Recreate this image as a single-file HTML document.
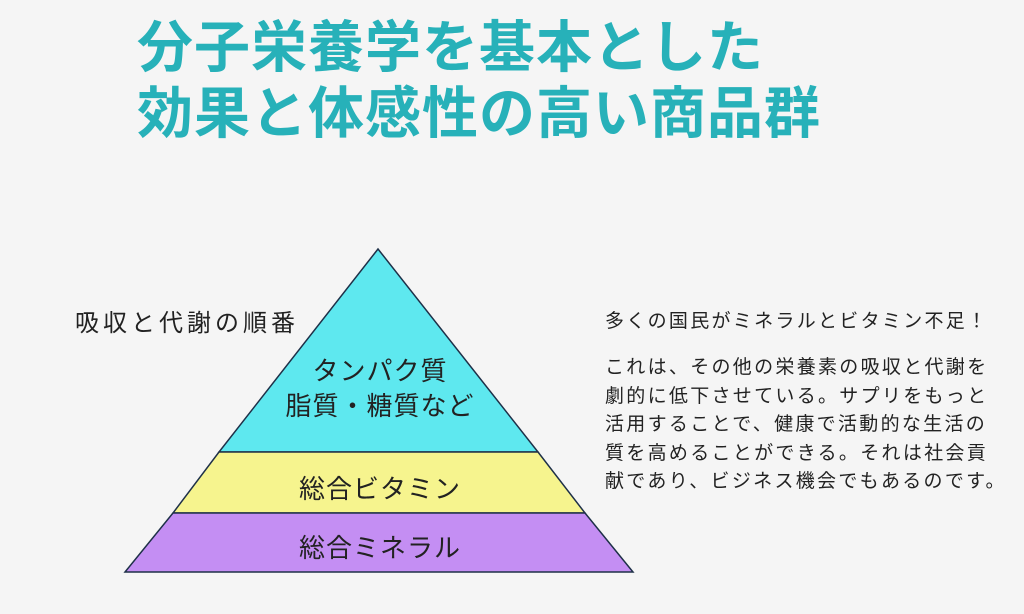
<!DOCTYPE html>
<html><head><meta charset="utf-8"><style>
html,body{margin:0;padding:0;width:1024px;height:614px;background:#f5f5f5;overflow:hidden;font-family:"Liberation Sans","Noto Sans CJK JP",sans-serif;}
.t{position:absolute;left:137px;font-size:56px;font-weight:bold;color:#27b1b9;line-height:1;white-space:nowrap;letter-spacing:1px;}
.r{position:absolute;left:605px;font-size:19px;color:#222;line-height:28.5px;white-space:nowrap;letter-spacing:2.3px;}
</style></head><body>
<div class="t" style="top:20px">分子栄養学を基本とした</div>
<div class="t" style="top:86px">効果と体感性の高い商品群</div>
<svg style="position:absolute;left:0;top:0" width="1024" height="614">
<polygon points="378,249 219,452 538,452" fill="#5ee8ef" stroke="#1e3048" stroke-width="1.5"/>
<polygon points="219,452 538,452 585,513 173,513" fill="#f6f48e" stroke="#1e3048" stroke-width="1.5"/>
<polygon points="173,513 585,513 633,572 125,572" fill="#c48ef3" stroke="#1e3048" stroke-width="1.5"/>
<g font-family="Liberation Sans, Noto Sans CJK JP, sans-serif" font-size="26" fill="#222" text-anchor="middle" letter-spacing="1">
<text x="380" y="380">タンパク質</text>
<text x="380" y="415">脂質・糖質など</text>
<text x="380" y="498">総合ビタミン</text>
<text x="380" y="557">総合ミネラル</text>
</g>
<text x="75" y="331" font-family="Liberation Sans, Noto Sans CJK JP, sans-serif" font-size="24" fill="#222" letter-spacing="4">吸収と代謝の順番</text>
</svg>
<div class="r" style="top:308px">多くの国民がミネラルとビタミン不足！</div>
<div class="r" style="top:354px">これは、その他の栄養素の吸収と代謝を<br>劇的に低下させている。サプリをもっと<br>活用することで、健康で活動的な生活の<br>質を高めることができる。それは社会貢<br>献であり、ビジネス機会でもあるのです。</div>
</body></html>
